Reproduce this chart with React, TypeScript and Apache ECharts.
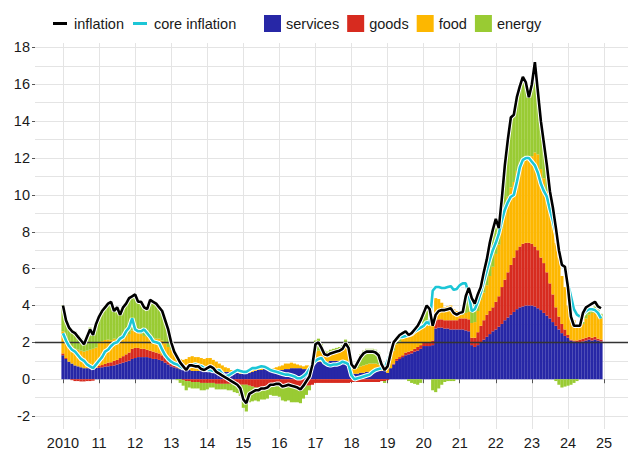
import { useEffect, useRef } from "react";
import * as echarts from "echarts";

// Monthly data, Jan 2010 .. Dec 2024 (percent, y/y)
const startYear = 2010;

const inflation = [
  4.0, 3.2, 2.8, 2.6, 2.5, 2.3, 2.1, 1.9, 2.3, 2.7, 2.4, 3.0,
  3.4, 3.7, 3.9, 4.1, 4.2, 3.7, 3.9, 3.5, 3.9, 4.1, 4.4, 4.5,
  4.6, 4.2, 4.2, 3.9, 3.8, 4.3, 4.2, 4.1, 3.9, 3.7, 3.2, 2.7,
  2.0, 1.5, 1.2, 0.9, 0.7, 0.5, 0.75, 0.75, 0.7, 0.7, 0.55, 0.5,
  0.6, 0.7, 0.6, 0.4, 0.3, 0.2, 0.1, 0.0, -0.1, -0.2, -0.3, -0.5,
  -1.1, -1.3, -0.8, -0.7, -0.6, -0.6, -0.5, -0.5, -0.45, -0.3, -0.3, -0.25,
  -0.25, -0.4, -0.35, -0.3, -0.35, -0.4, -0.45, -0.55, -0.35, -0.1, 0.15, 0.8,
  1.9, 2.0, 1.7, 1.35, 1.3, 1.4, 1.45, 1.5, 1.55, 1.65, 1.95, 1.7,
  0.8, 0.6, 0.9, 1.2, 1.4, 1.5, 1.5, 1.5, 1.45, 1.3, 0.8, 0.5,
  0.7, 1.4, 2.0, 2.2, 2.4, 2.5, 2.6, 2.4, 2.5, 2.7, 2.9, 3.2,
  3.6, 4.0, 3.8, 2.9, 3.5, 3.7, 3.75, 3.75, 3.8, 3.85, 3.6, 3.5,
  3.6, 3.65, 4.5, 4.95, 4.4, 4.1, 4.6, 5.0, 5.8, 6.5, 7.4, 8.1,
  8.7, 8.2, 9.8, 11.6, 13.0, 14.2, 14.35, 15.3, 15.9, 16.4, 16.1, 15.3,
  16.0, 17.2, 15.6, 14.0, 12.8, 11.6, 10.2, 9.3, 8.2, 7.0, 6.2, 6.1,
  5.0, 3.4, 2.9, 2.9, 2.9, 3.6, 3.9, 4.0, 4.1, 4.2, 3.95, 3.85,
];

const coreInflation = [
  2.5, 2.1, 1.8, 1.6, 1.5, 1.3, 1.1, 1.0, 0.8, 0.7, 0.6, 0.8,
  1.0, 1.2, 1.5, 1.6, 1.8, 1.95, 2.0, 2.2, 2.3, 2.6, 2.8, 3.3,
  2.7, 2.6, 2.6, 2.7, 2.5, 2.3, 2.05, 2.0, 1.95, 1.6, 1.3, 1.1,
  0.95, 0.85, 0.8, 0.7, 0.6, 0.65, 0.7, 0.75, 0.8, 0.75, 0.7, 0.6,
  0.5, 0.5, 0.45, 0.45, 0.5, 0.3, 0.15, 0.2, 0.3, 0.4, 0.5, 0.45,
  0.4, 0.4, 0.5, 0.6, 0.6, 0.65, 0.7, 0.68, 0.6, 0.5, 0.45, 0.4,
  0.35, 0.3, 0.25, 0.25, 0.2, 0.15, 0.05, 0.05, 0.15, 0.3, 0.55, 0.8,
  1.0, 1.1, 1.15, 0.9, 0.8, 0.75, 0.8, 0.8, 0.85, 0.95, 0.9, 0.8,
  0.2, 0.0, 0.05, 0.1, 0.15, 0.2, 0.25, 0.4, 0.5, 0.55, 0.6, 0.6,
  1.0, 1.5, 2.0, 2.15, 2.3, 2.3, 2.35, 2.4, 2.45, 2.6, 2.7, 2.8,
  2.9, 3.1, 3.0, 4.8, 5.0, 5.0, 4.95, 4.95, 5.0, 5.05, 4.85, 4.9,
  5.1, 5.2, 5.2, 4.6, 3.7, 3.8, 4.2, 4.7, 5.3, 5.9, 6.5, 7.0,
  7.4, 7.9, 8.6, 9.2, 9.6, 9.9, 10.0, 10.7, 11.5, 11.9, 12.0, 12.0,
  11.8, 11.6, 11.2, 10.6, 10.2, 9.9, 9.2, 8.6, 7.9, 7.0, 6.3, 5.9,
  5.2, 4.5, 3.8, 3.5, 3.4, 3.5, 3.7, 3.8, 3.8, 3.75, 3.6, 3.3,
];

const services = [
  1.3, 1.1, 0.95, 0.85, 0.75, 0.7, 0.65, 0.6, 0.6, 0.6, 0.6, 0.62,
  0.62, 0.65, 0.68, 0.7, 0.72, 0.75, 0.8, 0.85, 0.9, 0.95, 1.0, 1.1,
  1.15, 1.2, 1.2, 1.2, 1.2, 1.15, 1.1, 1.1, 1.05, 1.0, 0.9, 0.8,
  0.7, 0.65, 0.6, 0.55, 0.5, 0.5, 0.5, 0.45, 0.45, 0.45, 0.45, 0.4,
  0.45, 0.45, 0.4, 0.4, 0.4, 0.4, 0.4, 0.4, 0.35, 0.35, 0.35, 0.3,
  0.3, 0.3, 0.35, 0.4, 0.45, 0.5, 0.5, 0.55, 0.55, 0.5, 0.5, 0.5,
  0.5, 0.5, 0.55, 0.55, 0.6, 0.6, 0.6, 0.6, 0.55, 0.55, 0.55, 0.6,
  0.9, 0.95, 0.95, 0.95, 0.95, 1.0, 1.0, 1.0, 1.0, 1.0, 1.0, 0.95,
  0.35, 0.3, 0.3, 0.35, 0.35, 0.4, 0.4, 0.4, 0.45, 0.45, 0.45, 0.45,
  0.35, 0.6, 0.8, 1.0, 1.1, 1.2, 1.3, 1.35, 1.4, 1.5, 1.55, 1.65,
  1.8, 1.8, 1.8, 1.85, 2.75, 2.8, 2.8, 2.75, 2.75, 2.7, 2.7, 2.7,
  2.7, 2.7, 2.65, 2.6, 1.85, 1.75, 1.85, 2.0, 2.15, 2.3, 2.45, 2.6,
  2.7, 2.85, 3.0, 3.2, 3.35, 3.5, 3.65, 3.8, 3.9, 3.95, 4.0, 4.0,
  4.0, 3.95, 3.85, 3.75, 3.6, 3.45, 3.3, 3.1, 2.9, 2.7, 2.5, 2.35,
  2.25, 2.1, 2.05, 2.0, 2.0, 2.05, 2.1, 2.15, 2.1, 2.15, 2.1, 2.05,
];

const goods = [
  0.1, 0.05, 0.0, -0.05, -0.1, -0.1, -0.12, -0.12, -0.1, -0.1, -0.08, 0.0,
  0.1, 0.12, 0.15, 0.2, 0.2, 0.25, 0.25, 0.3, 0.35, 0.4, 0.45, 0.55,
  0.55, 0.5, 0.45, 0.45, 0.4, 0.4, 0.4, 0.35, 0.35, 0.3, 0.3, 0.25,
  0.15, 0.1, 0.05, 0.0, -0.05, -0.1, -0.1, -0.15, -0.15, -0.15, -0.2, -0.2,
  -0.2, -0.2, -0.2, -0.25, -0.25, -0.25, -0.25, -0.25, -0.25, -0.25, -0.3, -0.3,
  -0.3, -0.3, -0.35, -0.4, -0.45, -0.45, -0.45, -0.4, -0.4, -0.4, -0.35, -0.35,
  -0.35, -0.35, -0.4, -0.4, -0.4, -0.4, -0.4, -0.4, -0.4, -0.35, -0.35, -0.3,
  -0.2, -0.2, -0.2, -0.2, -0.2, -0.2, -0.2, -0.2, -0.2, -0.2, -0.2, -0.2,
  -0.15, -0.15, -0.15, -0.15, -0.15, -0.15, -0.15, -0.15, -0.15, -0.15, -0.1, -0.1,
  -0.05, 0.0, 0.05, 0.1, 0.1, 0.1, 0.15, 0.15, 0.15, 0.15, 0.2, 0.2,
  0.2, 0.2, 0.2, 0.25, 0.45, 0.45, 0.45, 0.45, 0.45, 0.5, 0.5, 0.5,
  0.6, 0.6, 0.65, 0.65, 0.4, 0.5, 0.7, 0.9, 1.05, 1.2, 1.25, 1.3,
  1.5, 1.65, 2.0, 2.2, 2.45, 2.7, 2.95, 3.2, 3.3, 3.4, 3.4, 3.4,
  3.35, 3.25, 3.15, 2.85, 2.7, 2.35, 1.9, 1.5, 1.0, 0.7, 0.5, 0.35,
  0.15, 0.05, 0.05, 0.1, 0.15, 0.15, 0.15, 0.15, 0.15, 0.15, 0.1, 0.1,
];

const food = [
  1.2, 1.1, 1.0, 0.95, 0.9, 0.9, 0.9, 0.9, 0.95, 1.0, 1.05, 1.1,
  1.3, 1.3, 1.3, 1.25, 1.2, 1.2, 1.1, 1.1, 1.1, 1.0, 1.0, 1.0,
  0.9, 0.9, 0.8, 0.7, 0.7, 0.7, 0.7, 0.75, 0.8, 0.8, 0.75, 0.7,
  0.75, 0.7, 0.6, 0.55, 0.55, 0.6, 0.7, 0.8, 0.75, 0.75, 0.7, 0.7,
  0.7, 0.7, 0.65, 0.55, 0.45, 0.35, 0.25, 0.2, 0.15, 0.15, 0.1, 0.1,
  0.0, 0.0, 0.05, 0.1, 0.1, 0.1, 0.1, 0.05, 0.05, 0.05, 0.1, 0.15,
  0.2, 0.25, 0.3, 0.3, 0.3, 0.25, 0.2, 0.15, 0.15, 0.2, 0.2, 0.25,
  0.6, 0.6, 0.55, 0.45, 0.4, 0.45, 0.5, 0.55, 0.55, 0.6, 0.7, 0.6,
  0.3, 0.25, 0.3, 0.35, 0.4, 0.4, 0.45, 0.45, 0.4, 0.35, 0.3, 0.25,
  0.3, 0.5, 0.7, 0.8, 0.85, 0.9, 0.9, 0.9, 0.95, 1.0, 1.0, 1.0,
  0.9, 1.0, 1.1, 1.2, 1.2, 1.1, 0.9, 0.7, 0.75, 0.8, 0.6, 0.5,
  0.2, 0.2, 0.3, 0.4, 0.8, 0.85, 1.15, 1.4, 1.5, 1.6, 1.9, 2.2,
  2.6, 2.8, 3.2, 3.6, 4.1, 4.2, 4.1, 4.3, 4.4, 4.45, 4.5, 4.6,
  4.75, 5.1, 5.2, 4.8, 4.6, 4.4, 4.1, 3.7, 3.5, 3.2, 2.6, 2.3,
  1.6, 1.35, 1.1, 0.8, 0.65, 0.8, 1.05, 1.2, 1.35, 1.3, 1.3, 1.15,
];

const energy = [
  1.4, 0.95, 0.85, 0.85, 0.95, 0.8, 0.67, 0.52, 0.85, 1.2, 0.83, 1.28,
  1.38, 1.63, 1.77, 1.95, 2.08, 1.5, 1.75, 1.25, 1.55, 1.75, 1.95, 1.85,
  2.0, 1.6, 1.75, 1.55, 1.5, 2.05, 2.0, 1.9, 1.7, 1.6, 1.25, 0.95,
  0.4, 0.05, -0.05, -0.2, -0.3, -0.5, -0.35, -0.35, -0.35, -0.35, -0.4, -0.4,
  -0.35, -0.25, -0.25, -0.3, -0.3, -0.3, -0.3, -0.35, -0.35, -0.45, -0.45, -0.6,
  -1.25, -1.45, -0.9, -0.8, -0.7, -0.75, -0.65, -0.7, -0.65, -0.45, -0.55, -0.55,
  -0.6, -0.8, -0.8, -0.75, -0.85, -0.85, -0.85, -0.9, -0.65, -0.5, -0.25, 0.25,
  0.6, 0.65, 0.4, 0.15, 0.15, 0.15, 0.15, 0.15, 0.2, 0.25, 0.45, 0.35,
  0.3, 0.2, 0.45, 0.65, 0.8, 0.85, 0.8, 0.8, 0.75, 0.65, 0.15, -0.1,
  0.1, 0.3, 0.45, 0.3, 0.35, 0.3, 0.25, -0.1, -0.2, -0.25, -0.3, -0.2,
  0.7, 1.0, 0.6, -0.6, -0.7, -0.5, -0.3, -0.15, -0.1, -0.1, -0.1, 0.0,
  0.1, 0.15, 0.9, 1.3, 1.35, 1.0, 0.9, 0.7, 1.1, 1.4, 1.8, 2.0,
  1.9, 0.9, 1.6, 2.6, 3.1, 3.8, 3.65, 4.0, 4.3, 4.6, 4.2, 3.3,
  3.9, 4.9, 3.4, 2.6, 1.9, 1.4, 0.9, 1.0, -0.1, -0.3, -0.45, -0.4,
  -0.35, -0.3, -0.2, -0.1, 0.0, 0.1, 0.3, 0.35, 0.3, 0.35, 0.3, 0.25,
];

const xTickYears = [2010, 2011, 2012, 2013, 2014, 2015, 2016, 2017, 2018, 2019, 2020, 2021, 2022, 2023, 2024, 2025];
const xTickLabels = ["2010", "11", "12", "13", "14", "15", "16", "17", "18", "19", "20", "21", "22", "23", "24", "25"];
const yTickValues = [-2, 0, 2, 4, 6, 8, 10, 12, 14, 16, 18];
const yGridValues = [-2, -1, 0, 1, 2, 3, 4, 5, 6, 7, 8, 9, 10, 11, 12, 13, 14, 15, 16, 17, 18];
const targetLevel = 2;

const COLORS = {
  services: "#2727A6",
  goods: "#D72B1F",
  food: "#FDB700",
  energy: "#99CB33",
  inflation: "#000000",
  core: "#1CC6D6",
};

const FONT = "'Liberation Sans', Arial, Helvetica, sans-serif";

const monthX = (i: number) => startYear + i / 12;
const toPoints = (arr: number[]) => arr.map((v, i) => [monthX(i), v]);
// value first, so that stacking applies to the value (y) dimension
const toBarPoints = (arr: number[]) => arr.map((v, i) => [v, monthX(i)]);

export default function App() {
  const ref = useRef<HTMLDivElement>(null);

  useEffect(() => {
    if (!ref.current) return;
    const chart = echarts.init(ref.current, undefined, { renderer: "svg" });

    const barSeries = (name: string, data: number[], color: string) => ({
      name,
      type: "bar",
      stack: "total",
      stackStrategy: "samesign",
      barWidth: 3.15,
      encode: { x: 1, y: 0 },
      data: toBarPoints(data),
      itemStyle: { color },
      emphasis: { disabled: true },
      silent: true,
      z: 2,
    });

    const lineSeries = (name: string, data: number[], color: string, width: number, z: number) => ({
      name,
      type: "line",
      data: toPoints(data),
      symbol: "none",
      showSymbol: false,
      lineStyle: { color, width },
      itemStyle: { color },
      emphasis: { disabled: true },
      silent: true,
      z,
    });

    const textStyle = { fontFamily: FONT, fontSize: 14.5, color: "#1a1a1a", lineHeight: 17 };

    const option: any = {
      animation: false,
      backgroundColor: "#ffffff",
      textStyle: { fontFamily: FONT },
      grid: { left: 35, right: 7, top: 43, bottom: 26 },
      legend: [
        {
          left: 48, top: 10, icon: "rect", itemWidth: 14, itemHeight: 3, itemGap: 9,
          selectedMode: false, data: ["inflation", "core inflation"],
          textStyle: { ...textStyle, padding: [0, 0, 0, 2] },
        },
        {
          left: 259, top: 10, icon: "rect", itemWidth: 17, itemHeight: 17, itemGap: 8,
          selectedMode: false, data: ["services", "goods", "food", "energy"], textStyle,
        },
      ],
      xAxis: {
        type: "value", min: 2009.224, max: 2025.665,
        axisLine: { show: false },
        axisTick: { show: true, customValues: xTickYears, length: 4, lineStyle: { color: "#555" } },
        axisLabel: {
          customValues: xTickYears,
          formatter: (v: number) => {
            const i = xTickYears.indexOf(Math.round(v));
            return i >= 0 ? xTickLabels[i] : "";
          },
          fontFamily: FONT, fontSize: 14.5, color: "#1a1a1a", margin: 6,
        },
        splitLine: { show: true, lineStyle: { color: "#e4e4e4", width: 1 } },
      },
      yAxis: [
        {
          type: "value", min: -2.7, max: 18.24,
          axisLine: { show: false },
          axisTick: { show: true, customValues: yTickValues, length: 3, lineStyle: { color: "#555" } },
          axisLabel: { customValues: yTickValues, fontFamily: FONT, fontSize: 14.5, color: "#1a1a1a", margin: 5 },
          splitLine: { show: false },
        },
        {
          type: "value", min: -2.7, max: 18.24, position: "left",
          axisLine: { show: false },
          axisTick: { show: false, customValues: yGridValues },
          axisLabel: { show: false },
          splitLine: { show: true, lineStyle: { color: "#e4e4e4", width: 1 } },
        },
      ],
      series: [
        barSeries("services", services, COLORS.services),
        barSeries("goods", goods, COLORS.goods),
        barSeries("food", food, COLORS.food),
        barSeries("energy", energy, COLORS.energy),
        {
          ...lineSeries("core halo", coreInflation, "#ffffff", 4.6, 10),
          markLine: {
            silent: true, symbol: ["none", "none"], label: { show: false },
            lineStyle: { color: "#333333", width: 1.3, type: "solid" },
            data: [{ yAxis: targetLevel }], z: 5,
          },
        },
        lineSeries("core inflation", coreInflation, COLORS.core, 2.6, 11),
        lineSeries("inflation halo", inflation, "#ffffff", 4.6, 12),
        lineSeries("inflation", inflation, COLORS.inflation, 2.6, 13),
      ],
    };

    chart.setOption(option);
    return () => chart.dispose();
  }, []);

  return (
    <div ref={ref} style={{ position: "fixed", left: 0, top: 0, width: 635, height: 455, background: "#fff" }} />
  );
}
